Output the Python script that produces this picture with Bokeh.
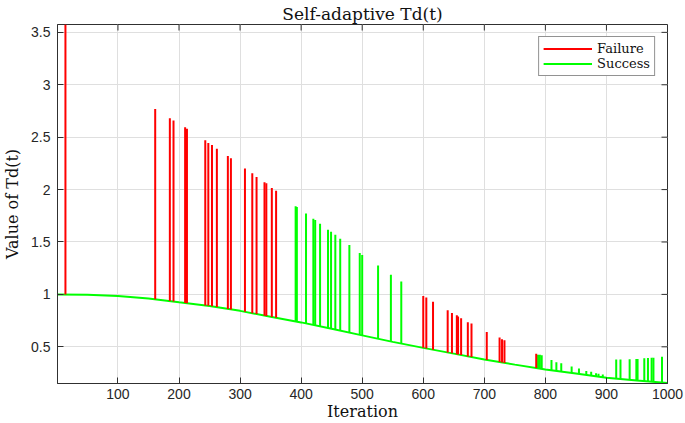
import numpy as np
from bokeh.plotting import figure
from bokeh.models import Range1d, FixedTicker, Legend, LegendItem
from bokeh.embed import file_html
from bokeh.resources import INLINE

# Baseline curve of Td(t) (read at regular iterations)
base_iter = [1, 50, 100, 150, 200, 250, 300, 350, 400, 450, 500,
             550, 600, 650, 700, 750, 800, 850, 900, 950, 1000]
base_val = [1.0, 0.996, 0.984, 0.962, 0.925, 0.890, 0.843, 0.786, 0.733, 0.672, 0.609,
            0.547, 0.490, 0.435, 0.378, 0.330, 0.283, 0.245, 0.205, 0.178, 0.155]

# Failure spikes (iteration, peak value)
fail_iter = [14, 161, 185, 191, 210, 213, 243, 248, 254, 262, 280, 285, 308, 320, 327,
             340, 343, 352, 359, 600, 605, 616, 640, 647, 655, 657, 662, 673, 679,
             704, 725, 729, 733, 785]
fail_peak = [3.575, 2.77, 2.68, 2.66, 2.595, 2.58, 2.47, 2.445, 2.425, 2.39, 2.32, 2.30,
             2.20, 2.155, 2.12, 2.07, 2.06, 2.015, 1.99, 0.985, 0.97, 0.93, 0.85, 0.823,
             0.80, 0.79, 0.772, 0.735, 0.722, 0.642, 0.59, 0.573, 0.563, 0.434]

# Success spikes (iteration, peak value)
succ_iter = [391, 393, 408, 420, 423, 431, 444, 449, 456, 464, 479, 496, 500, 526, 547,
             564, 788, 791, 794, 810, 818, 826, 843, 855, 867, 875, 883, 887, 894,
             916, 923, 938, 949, 951, 962, 968, 974, 977, 991]
succ_peak = [1.842, 1.833, 1.772, 1.722, 1.709, 1.674, 1.617, 1.598, 1.570, 1.532, 1.472,
             1.396, 1.377, 1.275, 1.187, 1.123, 0.425, 0.425, 0.42, 0.375, 0.353, 0.344,
             0.313, 0.294, 0.269, 0.263, 0.247, 0.244, 0.235, 0.378, 0.378, 0.381, 0.384,
             0.384, 0.39, 0.393, 0.396, 0.396, 0.406]

x_ticks = [100, 200, 300, 400, 500, 600, 700, 800, 900, 1000]
y_ticks = [0.5, 1, 1.5, 2, 2.5, 3, 3.5]

RED = "#ff0000"
GREEN = "#00ff00"
AX = "#303030"

p = figure(width=685, height=423, output_backend="svg", toolbar_location=None,
           x_range=Range1d(1, 1000), y_range=Range1d(0.15, 3.575),
           min_border_left=57, min_border_right=18, min_border_top=23, min_border_bottom=39)

p.title.text = "Self-adaptive Td(t)"
p.title.text_font = "DejaVu Serif"
p.title.text_font_size = "17px"
p.title.text_font_style = "normal"
p.title.text_color = "#111111"
p.title.align = "center"
p.title.standoff = 2

p.outline_line_color = AX
p.outline_line_width = 1
p.background_fill_color = "white"

for ax in (p.xaxis[0], p.yaxis[0]):
    ax.axis_line_color = AX
    ax.major_tick_line_color = AX
    ax.major_tick_in = 6
    ax.major_tick_out = 0
    ax.minor_tick_line_color = None
    ax.major_label_text_font = "Liberation Sans"
    ax.major_label_text_font_size = "14px"
    ax.major_label_text_color = "#262626"
    ax.axis_label_text_font = "DejaVu Serif"
    ax.axis_label_text_font_size = "16px"
    ax.axis_label_text_font_style = "normal"
    ax.axis_label_text_color = "#111111"

p.xaxis.major_label_standoff = 5
p.xaxis.axis_label_standoff = 0
p.yaxis.major_label_standoff = 7
p.yaxis.axis_label_standoff = 6

p.xaxis.ticker = FixedTicker(ticks=x_ticks)
p.yaxis.ticker = FixedTicker(ticks=y_ticks)
p.xaxis.axis_label = "Iteration"
p.yaxis.axis_label = "Value of Td(t)"

p.xgrid.ticker = FixedTicker(ticks=x_ticks)
p.ygrid.ticker = FixedTicker(ticks=y_ticks)
p.grid.grid_line_color = "#dfdfdf"
p.grid.grid_line_width = 1

# inward ticks on the top and right edges of the box
y_top = p.y_range.end
x_right = p.x_range.end
p.ray(x=x_ticks, y=[y_top] * len(x_ticks), length=6, length_units="screen",
      angle=-np.pi / 2, line_color=AX, line_width=1)
p.ray(x=[x_right] * len(y_ticks), y=y_ticks, length=6, length_units="screen",
      angle=np.pi, line_color=AX, line_width=1)

r_base = p.line(base_iter, base_val, line_color=GREEN, line_width=2)

succ_base = np.interp(succ_iter, base_iter, base_val)
fail_base = np.interp(fail_iter, base_iter, base_val)
r_succ = p.segment(x0=succ_iter, y0=succ_base, x1=succ_iter, y1=succ_peak,
                   line_color=GREEN, line_width=2)
r_fail = p.segment(x0=fail_iter, y0=fail_base, x1=fail_iter, y1=fail_peak,
                   line_color=RED, line_width=2)

legend = Legend(items=[LegendItem(label="Failure", renderers=[r_fail]),
                       LegendItem(label="Success", renderers=[r_base])],
                location="top_right", margin=12, padding=4, spacing=0,
                glyph_width=49, glyph_height=15, label_height=15, label_standoff=5,
                label_text_font="DejaVu Serif", label_text_font_size="13px",
                label_text_color="#111111",
                border_line_color="#262626", border_line_width=1,
                background_fill_color="white", background_fill_alpha=1)
p.add_layout(legend)

open("out.html", "w").write(file_html(p, INLINE))
